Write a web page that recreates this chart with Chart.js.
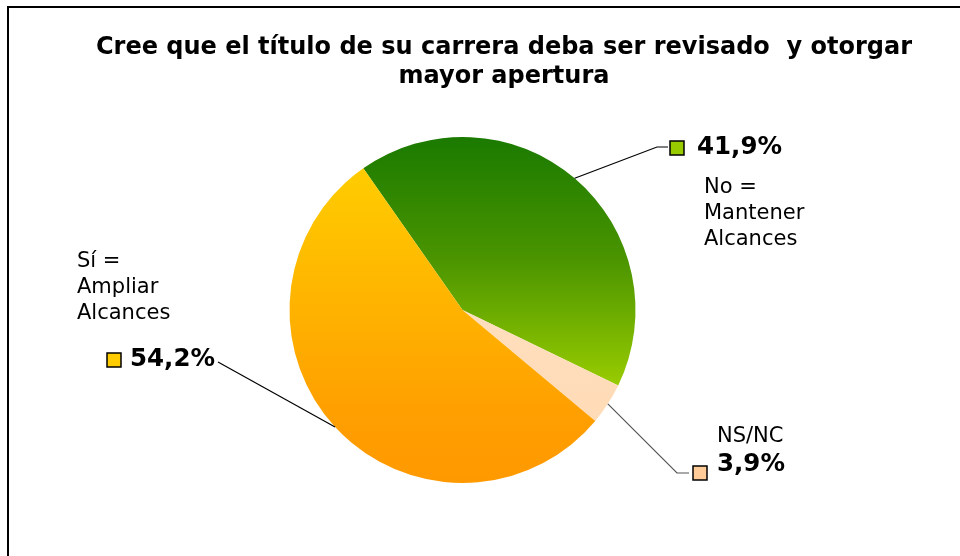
<!DOCTYPE html>
<html>
<head>
<meta charset="utf-8">
<script src="https://cdn.jsdelivr.net/npm/chart.js@4.4.0/dist/chart.umd.min.js"></script>
<style>
  html, body { margin: 0; padding: 0; background: #fff; }
  #wrap { width: 960px; height: 556px; }
</style>
</head>
<body>
<div id="wrap"><canvas id="myChart" width="960" height="556"></canvas></div>
<script>
const titleLines = ['Cree que el título de su carrera deba ser revisado  y otorgar', 'mayor apertura'];
const categories = ['No = Mantener Alcances', 'NS/NC', 'Sí = Ampliar Alcances'];
const values = [41.9, 3.9, 54.2];
const swatchColors = ['#99cc00', '#ffcc99', '#ffcc00'];

let ctx = document.getElementById('myChart').getContext('2d');

function sliceFill(c) {
  const area = c.chart.chartArea;
  if (!area) return swatchColors[c.dataIndex];
  const g = c.chart.ctx.createLinearGradient(0, area.top, 0, area.bottom);
  if (c.dataIndex === 0) {
    g.addColorStop(0, '#1a7a00');
    g.addColorStop(0.35, '#4a9400');
    g.addColorStop(0.72, '#99cc00');
    g.addColorStop(1, '#99cc00');
  } else if (c.dataIndex === 1) {
    g.addColorStop(0, '#ffe4c8');
    g.addColorStop(1, '#ffd9b3');
  } else {
    g.addColorStop(0, '#ffcc00');
    g.addColorStop(0.1, '#ffcc00');
    g.addColorStop(0.8, '#ff9f00');
    g.addColorStop(1, '#ff9900');
  }
  return g;
}

// where each label sits, and the elbow of its leader line
const labelSpots = [
  { box: [670, 141], pct: [697, 148], name: [704, 188], nameLines: ['No =', 'Mantener', 'Alcances'], elbow: [657, 147], lineEnd: [668, 147] },
  { box: [693, 466], pct: [717, 465], name: [717, 437], nameLines: ['NS/NC'], elbow: [677, 473], lineEnd: [689, 473] },
  { box: [107, 353], pct: [130, 360], name: [77, 262], nameLines: ['Sí =', 'Ampliar', 'Alcances'], elbow: null, lineEnd: [218, 362] }
];

const decorPlugin = {
  id: 'decor',
  afterDraw(chart) {
    const c = chart.ctx;
    c.save();
    // frame
    c.strokeStyle = '#000';
    c.lineWidth = 2;
    c.beginPath();
    c.moveTo(8, 556);
    c.lineTo(8, 7);
    c.lineTo(960, 7);
    c.stroke();

    // title
    c.fillStyle = '#000';
    c.textAlign = 'center';
    c.textBaseline = 'middle';
    c.font = 'bold 24px "DejaVu Sans"';
    c.fillText(titleLines[0], 504, 48);
    c.fillText(titleLines[1], 504, 77);

    const meta = chart.getDatasetMeta(0);
    meta.data.forEach((arc, i) => {
      const s = labelSpots[i];
      const mid = (arc.startAngle + arc.endAngle) / 2;
      const x0 = arc.x + Math.cos(mid) * arc.outerRadius;
      const y0 = arc.y + Math.sin(mid) * arc.outerRadius;
      c.strokeStyle = i === 1 ? '#555' : '#000';
      c.lineWidth = 1.2;
      c.beginPath();
      c.moveTo(x0, y0);
      if (s.elbow) c.lineTo(s.elbow[0], s.elbow[1]);
      c.lineTo(s.lineEnd[0], s.lineEnd[1]);
      c.stroke();

      // swatch
      c.fillStyle = swatchColors[i];
      c.fillRect(s.box[0], s.box[1], 14, 14);
      c.strokeStyle = '#000';
      c.lineWidth = 1.5;
      c.strokeRect(s.box[0], s.box[1], 14, 14);

      // percent
      c.fillStyle = '#000';
      c.textAlign = 'left';
      c.textBaseline = 'middle';
      c.font = 'bold 24.5px "DejaVu Sans"';
      c.fillText(values[i].toFixed(1).replace('.', ',') + '%', s.pct[0], s.pct[1]);

      // category name
      c.font = '21px "DejaVu Sans"';
      s.nameLines.forEach((t, k) => c.fillText(t, s.name[0], s.name[1] + k * 26));
    });
    c.restore();
  }
};

const dataPie = {
  labels: categories,
  datasets: [{
    data: values,
    backgroundColor: sliceFill,
    borderWidth: 0
  }]
};

const configPie = {
  type: 'pie',
  data: dataPie,
  options: {
    responsive: false,
    animation: false,
    rotation: -35,
    layout: { padding: { left: 289, top: 137, right: 324, bottom: 73 } },
    plugins: {
      legend: { display: false },
      tooltip: { enabled: false }
    }
  },
  plugins: [decorPlugin]
};

let chart = new Chart(ctx, configPie);
</script>
</body>
</html>
